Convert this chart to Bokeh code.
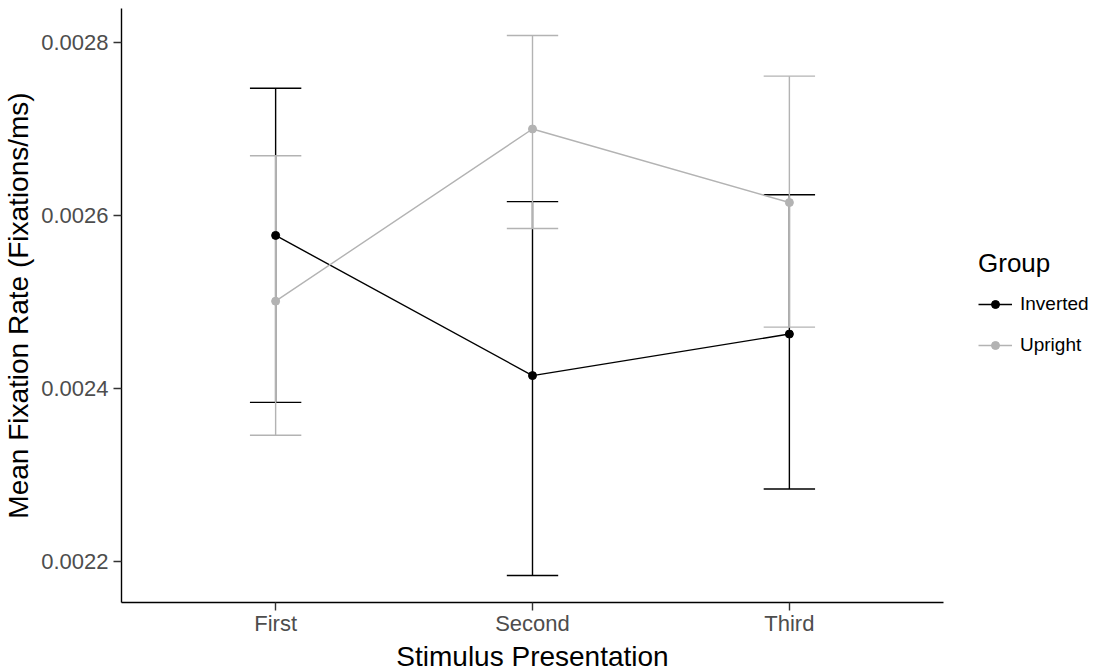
import numpy as np
from bokeh.plotting import figure
from bokeh.models import Range1d, FixedTicker, Legend, LegendItem, ColumnDataSource, PrintfTickFormatter
from bokeh.embed import file_html
from bokeh.resources import INLINE

# ---- data ----
categories = ["First", "Second", "Third"]
groups = ["Inverted", "Upright"]
inverted_mean = [0.002577, 0.002415, 0.002463]
inverted_lower = [0.002384, 0.002184, 0.002284]
inverted_upper = [0.002747, 0.002616, 0.002624]
upright_mean = [0.002501, 0.002700, 0.002615]
upright_lower = [0.002346, 0.002585, 0.002471]
upright_upper = [0.002669, 0.002808, 0.002761]
y_ticks = [0.0022, 0.0024, 0.0026, 0.0028]
x_title = "Stimulus Presentation"
y_title = "Mean Fixation Rate (Fixations/ms)"
legend_title = "Group"
group_colors = ["#000000", "#B3B3B3"]

FONT = "Liberation Sans"

x = np.arange(1, len(categories) + 1, dtype=float)
series = {
    "Inverted": (inverted_mean, inverted_lower, inverted_upper),
    "Upright": (upright_mean, upright_lower, upright_upper),
}
all_vals = inverted_lower + inverted_upper + upright_lower + upright_upper
lo, hi = min(all_vals), max(all_vals)
span = hi - lo

p = figure(
    frame_width=822, frame_height=594,
    x_range=Range1d(0.4, len(categories) + 0.6),
    y_range=Range1d(lo - 0.05 * span, hi + 0.05 * span),
    output_backend="svg", toolbar_location=None,
    min_border_left=110, min_border_right=10, min_border_top=8, min_border_bottom=0,
)
p.outline_line_color = None
p.xgrid.visible = False
p.ygrid.visible = False
p.background_fill_color = "white"
p.border_fill_color = "white"

LW = 1.4
cap = 0.1
# error bars first
for g, col in zip(groups, group_colors):
    m, l, u = series[g]
    src = ColumnDataSource(dict(x=x, m=m, l=l, u=u, x0=x - cap, x1=x + cap))
    p.segment(x0="x", y0="l", x1="x", y1="u", source=src, line_color=col, line_width=LW)
    p.segment(x0="x0", y0="u", x1="x1", y1="u", source=src, line_color=col, line_width=LW)
    p.segment(x0="x0", y0="l", x1="x1", y1="l", source=src, line_color=col, line_width=LW)

items = []
for g, col in zip(groups, group_colors):
    m, l, u = series[g]
    src = ColumnDataSource(dict(x=x, m=m))
    lr = p.line("x", "m", source=src, line_color=col, line_width=LW)
    pr = p.scatter("x", "m", source=src, size=8, fill_color=col, line_color=col)
    items.append(LegendItem(label=g, renderers=[lr, pr]))

# axes
for ax in (p.xaxis[0], p.yaxis[0]):
    ax.axis_line_color = "#000000"
    ax.axis_line_width = 1.4
    ax.major_tick_line_color = "#333333"
    ax.major_tick_line_width = 1.4
    ax.major_tick_out = 8
    ax.major_tick_in = 0
    ax.minor_tick_line_color = None
    ax.major_label_text_font = FONT
    ax.major_label_text_font_size = "22px"
    ax.major_label_text_color = "#4D4D4D"
    ax.axis_label_text_font = FONT
    ax.axis_label_text_font_size = "28px"
    ax.axis_label_text_font_style = "normal"
    ax.axis_label_text_color = "#000000"

p.xaxis.ticker = FixedTicker(ticks=list(x))
p.xaxis.major_label_overrides = {float(v): c for v, c in zip(x, categories)}
p.xaxis.axis_label = x_title
p.xaxis.major_label_standoff = 0
p.xaxis.axis_label_standoff = 2

p.yaxis.ticker = FixedTicker(ticks=y_ticks)
p.yaxis.formatter = PrintfTickFormatter(format="%.4f")
p.yaxis.axis_label = y_title
p.yaxis.major_label_standoff = 5
p.yaxis.axis_label_standoff = 4

legend = Legend(
    items=items, title=legend_title,
    location=(35, 238),
    margin=0, padding=5,
    border_line_color=None, background_fill_alpha=0,
    glyph_width=34, glyph_height=20, label_height=38, spacing=3,
    label_text_font=FONT, label_text_font_size="19px", label_text_color="#000000",
    title_text_font=FONT, title_text_font_size="26px", title_text_font_style="normal",
    title_text_color="#000000", title_standoff=6, label_standoff=8,
)
p.add_layout(legend, "right")

open("out.html", "w").write(file_html(p, INLINE))
